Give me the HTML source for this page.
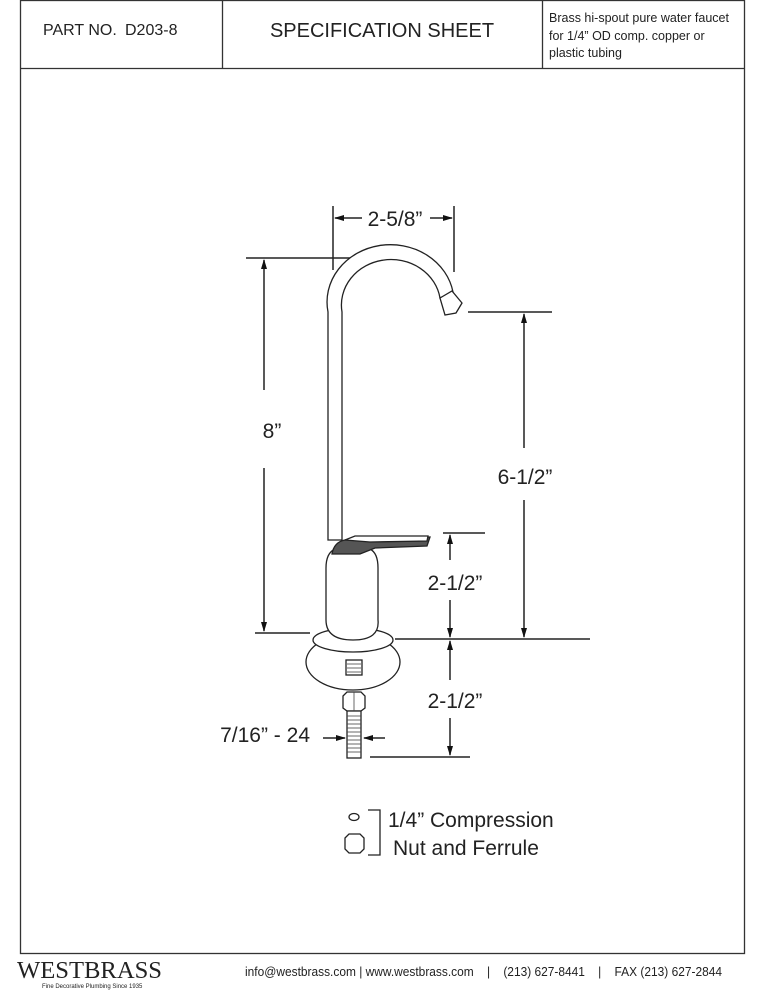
<!DOCTYPE html>
<html><head><meta charset="utf-8"><style>
html,body{margin:0;padding:0;background:#fff;}
svg{display:block}
text{font-family:"Liberation Sans",sans-serif;fill:#222}
</style></head><body>
<svg width="766" height="990" viewBox="0 0 766 990" xmlns="http://www.w3.org/2000/svg">
<defs>
<marker id="a" markerWidth="10" markerHeight="8" refX="9" refY="4" orient="auto" markerUnits="userSpaceOnUse"><path d="M0,1 L10,4 L0,7 Z" fill="#111"/></marker>
</defs>
<g fill="none" stroke="#333" stroke-width="1.3">
<rect x="20.5" y="0.5" width="724" height="953"/>
<line x1="20" y1="68.5" x2="745" y2="68.5"/>
<line x1="222.5" y1="0" x2="222.5" y2="68"/>
<line x1="542.5" y1="0" x2="542.5" y2="68"/>
</g>
<text x="43" y="35" font-size="16">PART NO.</text>
<text x="125" y="35" font-size="16">D203-8</text>
<text x="382" y="37" font-size="20" text-anchor="middle">SPECIFICATION SHEET</text>
<text x="549" y="22" font-size="12.5">Brass hi-spout pure water faucet</text>
<text x="549" y="40" font-size="12.5">for 1/4” OD comp. copper or</text>
<text x="549" y="57" font-size="12.5">plastic tubing</text>

<g stroke="#222" stroke-width="1.5" fill="none">
<line x1="333" y1="206" x2="333" y2="270"/>
<line x1="454" y1="206" x2="454" y2="272"/>
<line x1="362" y1="218" x2="335" y2="218" marker-end="url(#a)"/>
<line x1="430" y1="218" x2="452" y2="218" marker-end="url(#a)"/>
<line x1="246" y1="258" x2="373" y2="258"/>
<line x1="264" y1="390" x2="264" y2="260" marker-end="url(#a)"/>
<line x1="264" y1="468" x2="264" y2="631" marker-end="url(#a)"/>
<line x1="255" y1="633" x2="310" y2="633"/>
<line x1="468" y1="312" x2="552" y2="312"/>
<line x1="524" y1="448" x2="524" y2="314" marker-end="url(#a)"/>
<line x1="524" y1="500" x2="524" y2="637" marker-end="url(#a)"/>
<line x1="395" y1="639" x2="590" y2="639"/>
<line x1="443" y1="533" x2="485" y2="533"/>
<line x1="450" y1="560" x2="450" y2="535" marker-end="url(#a)"/>
<line x1="450" y1="600" x2="450" y2="637" marker-end="url(#a)"/>
<line x1="450" y1="680" x2="450" y2="641" marker-end="url(#a)"/>
<line x1="450" y1="718" x2="450" y2="755" marker-end="url(#a)"/>
<line x1="370" y1="757" x2="470" y2="757"/>
<line x1="323" y1="738" x2="345" y2="738" marker-end="url(#a)"/>
<line x1="385" y1="738" x2="364" y2="738" marker-end="url(#a)"/>
</g>
<text x="395" y="226" font-size="21" text-anchor="middle">2-5/8”</text>
<text x="272" y="438" font-size="21" text-anchor="middle">8”</text>
<text x="525" y="484" font-size="21" text-anchor="middle">6-1/2”</text>
<text x="455" y="590" font-size="21" text-anchor="middle">2-1/2”</text>
<text x="455" y="708" font-size="21" text-anchor="middle">2-1/2”</text>
<text x="310" y="742" font-size="21" text-anchor="end">7/16” - 24</text>

<g stroke="#222" stroke-width="1.3" fill="#fff">
<path d="M328,540 L328,312 A62,56 0 0 1 453,292 L440,298 A48,44 0 0 0 342,312 L342,540 Z"/>
<path d="M440,298 L452,291 L462,303 L456,313 L445,315 Z"/>
<ellipse cx="353" cy="662" rx="47" ry="28"/>
<rect x="346" y="660" width="16" height="15"/>
<ellipse cx="353" cy="640" rx="40" ry="12"/>
<path d="M326,568 L326,620 Q326,640 353,640 Q380,640 378,620 L378,568 Q378,553 370,549 L335,549 Q326,553 326,568 Z"/>
<path d="M332,554 Q334,542 345,540 L360,538 L430,537 L427,546 L375,548 Q365,552 360,554 Z" fill="#555"/>
<path d="M345,540 L355,536 L370,536 L428,536 L427,541 L370,542 Z" fill="#fff"/>
<polygon points="343,696 347,692 361,692 365,696 365,708 361,711 347,711 343,708"/>
<rect x="347" y="711" width="14" height="47"/>
</g>
<g stroke="#444" stroke-width="0.8">
<line x1="347" y1="716" x2="361" y2="716"/><line x1="347" y1="720" x2="361" y2="720"/><line x1="347" y1="724" x2="361" y2="724"/><line x1="347" y1="728" x2="361" y2="728"/><line x1="347" y1="732" x2="361" y2="732"/><line x1="347" y1="736" x2="361" y2="736"/><line x1="347" y1="740" x2="361" y2="740"/><line x1="347" y1="744" x2="361" y2="744"/><line x1="347" y1="748" x2="361" y2="748"/><line x1="347" y1="752" x2="361" y2="752"/>
<line x1="347" y1="664" x2="361" y2="664"/><line x1="347" y1="668" x2="361" y2="668"/><line x1="347" y1="672" x2="361" y2="672"/>
<line x1="354" y1="692" x2="354" y2="711"/>
</g>

<g stroke="#222" stroke-width="1.3" fill="#fff">
<ellipse cx="354" cy="817" rx="5" ry="3.5"/>
<path d="M345,838 L349,834 L360,834 L364,838 L364,849 L360,853 L349,853 L345,849 Z"/>
<polyline points="368,810 380,810 380,855 368,855" fill="none"/>
</g>
<text x="388" y="827" font-size="21">1/4” Compression</text>
<text x="393" y="855" font-size="21">Nut and Ferrule</text>

<text x="17" y="978" font-size="24" style="font-family:'Liberation Serif',serif" textLength="145" lengthAdjust="spacingAndGlyphs">WESTBRASS</text>
<text x="42" y="988" font-size="6">Fine Decorative Plumbing Since 1935</text>
<text x="245" y="976" font-size="13" textLength="477" lengthAdjust="spacingAndGlyphs" xml:space="preserve">info@westbrass.com | www.westbrass.com    |    (213) 627-8441    |    FAX (213) 627-2844</text>
</svg>
</body></html>
